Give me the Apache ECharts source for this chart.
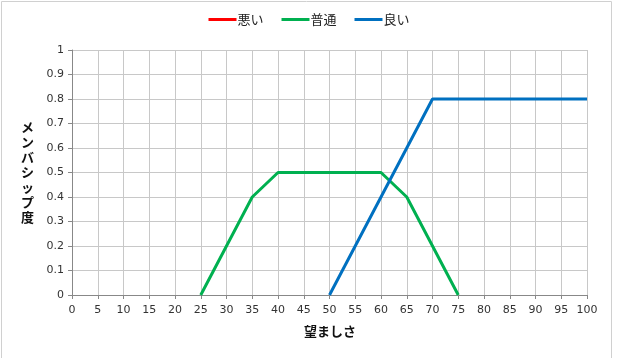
<!DOCTYPE html>
<html>
<head>
<meta charset="utf-8">
<script src="https://cdn.jsdelivr.net/npm/echarts@6/dist/echarts.min.js"></script>
<style>
  html, body { margin: 0; padding: 0; background: #fff; }
  #chart { width: 618px; height: 358px; }
</style>
</head>
<body>
<div id="chart"></div>
<script>
// 系列データ [望ましさ, メンバシップ度]
var seriesNames = ['悪い', '普通', '良い'];
var badData = [];
var normalData = [[25, 0], [35, 0.4], [40, 0.5], [60, 0.5], [65, 0.4], [75, 0]];
var goodData = [[50, 0], [70, 0.8], [100, 0.8]];
var colors = ['#ff0000', '#00b050', '#0070c0'];

var font = '"Noto Sans CJK JP", sans-serif';
var myChart = echarts.init(document.getElementById('chart'));

var option = {
    animation: false,
    textStyle: { fontFamily: font },
    legend: {
        top: 8,
        left: 'center',
        itemWidth: 28,
        itemHeight: 3,
        itemGap: 18,
        icon: 'rect',
        textStyle: { fontSize: 13, color: '#222', fontFamily: font, padding: [0, 0, 0, -4] },
        data: seriesNames
    },
    grid: { left: 72, right: 31, top: 50, bottom: 63 },
    xAxis: {
        type: 'value',
        min: 0, max: 100, interval: 5,
        axisLine: { lineStyle: { color: '#888' } },
        axisTick: { show: true, inside: false, length: 4, lineStyle: { color: '#888' } },
        axisLabel: { color: '#333', fontSize: 11, margin: 10, fontFamily: 'Verdana, "DejaVu Sans", sans-serif' },
        splitLine: { show: true, lineStyle: { color: '#c8c8c8' } }
    },
    yAxis: {
        type: 'value',
        min: 0, max: 1, interval: 0.1,
        axisLine: { show: true, lineStyle: { color: '#888' } },
        axisTick: { show: true, length: 4, lineStyle: { color: '#888' } },
        axisLabel: { color: '#333', fontSize: 11, margin: 8, fontFamily: 'Verdana, "DejaVu Sans", sans-serif',
            formatter: function (v) { return String(Math.round(v * 10) / 10); } },
        splitLine: { show: true, lineStyle: { color: '#c8c8c8' } }
    },
    graphic: [
        { type: 'rect', shape: { x: 1.5, y: 1.5, width: 610, height: 370 }, style: { fill: 'none', stroke: '#d0d0d0', lineWidth: 1 } },
        { type: 'text', left: 21, top: 120, style: { text: 'メ\nン\nバ\nシ\nッ\nプ\n度', font: 'bold 13px ' + font, fill: '#111', lineHeight: 15, align: 'center' } },
        { type: 'text', left: 304, top: 325, style: { text: '望ましさ', font: 'bold 13px ' + font, fill: '#111' } }
    ],
    series: [
        { name: seriesNames[0], type: 'line', data: badData, symbol: 'none', lineStyle: { width: 3, color: colors[0] }, itemStyle: { color: colors[0] } },
        { name: seriesNames[1], type: 'line', data: normalData, symbol: 'none', lineStyle: { width: 3, color: colors[1] }, itemStyle: { color: colors[1] } },
        { name: seriesNames[2], type: 'line', data: goodData, symbol: 'none', lineStyle: { width: 3, color: colors[2] }, itemStyle: { color: colors[2] } }
    ]
};
myChart.setOption(option);
</script>
</body>
</html>
